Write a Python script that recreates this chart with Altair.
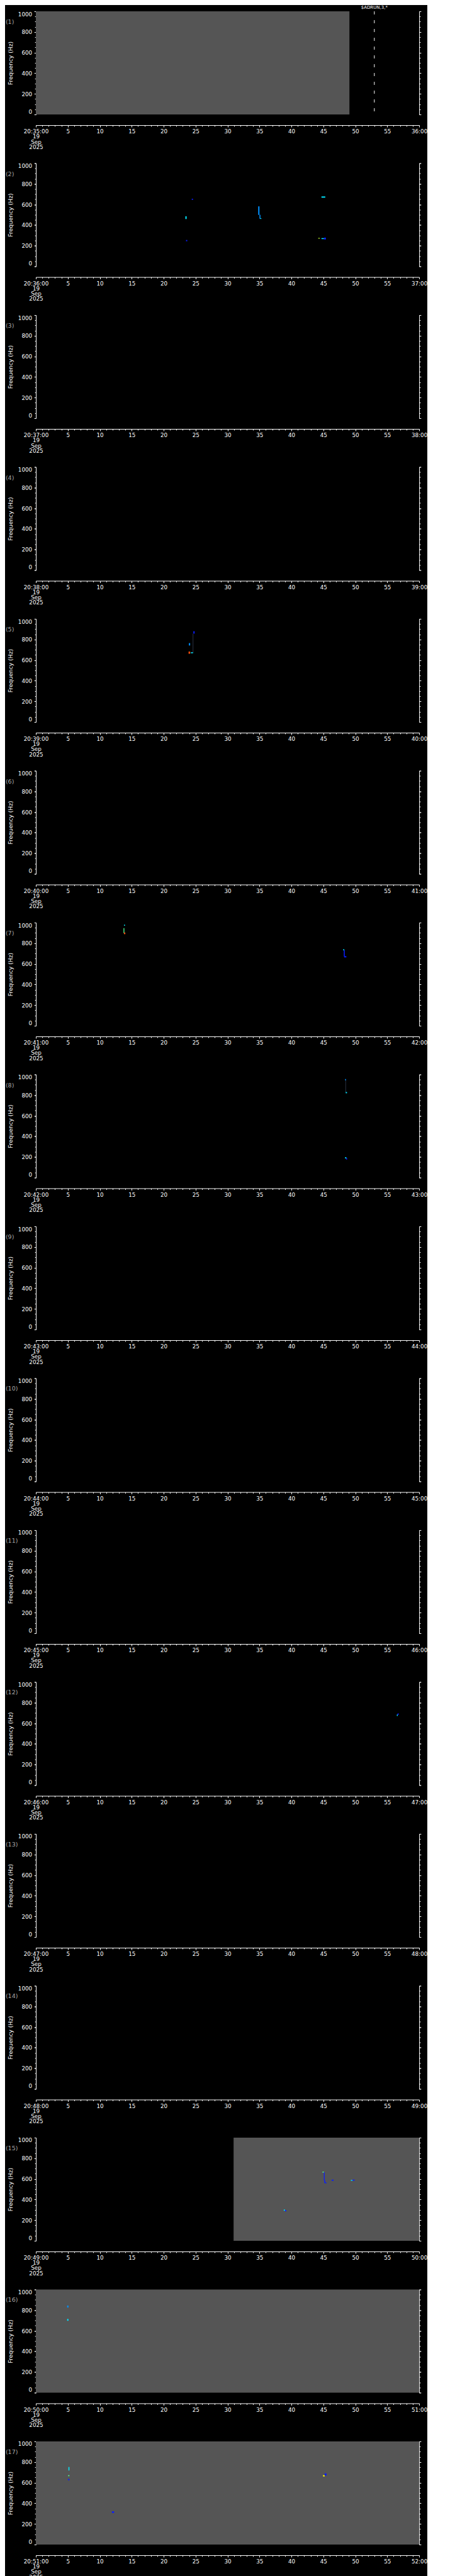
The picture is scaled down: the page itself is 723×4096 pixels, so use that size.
import altair as alt
import pandas as pd

S = 0.705
W = round(864 * S, 1)
H = round(232.7 * S, 1)
PITCH = 341.3 * S
XOFF = round(24 * S, 1)

panel_ids = list(range(1, 18))
panel_labels = [f"({k})" for k in panel_ids]
start_labels = [f"20:{35 + k - 1}:00" for k in panel_ids]
end_labels = [f"{36 + k - 1}:00" for k in panel_ids]
date_lines = ["19", "Sep", "2025"]

x_major = list(range(0, 61, 5))
x_minor = list(range(0, 61, 1))
y_major = list(range(0, 1001, 200))
y_minor = list(range(0, 1001, 50))

# data coverage (grey background) per panel, seconds within the minute
cov_panel = [1, 15, 16, 17]
cov_start = [0.0, 30.95, 0.0, 0.0]
cov_end = [49.08, 60.0, 60.0, 60.0]
cov_fmin = [0, 0, 0, 0]
cov_fmax = [1000, 1000, 1000, 1000]

# spectrogram detections
speck_panel = [2, 2, 2, 2, 2, 2, 2, 2, 2, 2,
               5, 5, 5, 5, 5,
               7, 7, 7, 7, 7, 7,
               8, 8, 8, 8, 8,
               12, 12,
               15, 15, 15, 15, 15, 15, 15, 15, 15,
               16, 16,
               17, 17, 17, 17, 17, 17]
speck_t0 = [23.40, 24.40, 23.50, 34.80, 35.00, 35.10, 44.70, 44.20, 44.70, 45.10,
            24.65, 24.55, 23.95, 23.90, 24.25,
            13.80, 13.72, 13.80, 48.10, 48.20, 48.25,
            48.45, 48.40, 48.50, 48.40, 48.55,
            56.50, 56.60,
            44.85, 45.08, 45.15, 45.25, 46.30, 49.30, 49.55, 38.80, 39.00,
            4.90, 4.90,
            5.10, 5.05, 5.05, 11.90, 44.95, 45.20]
speck_t1 = [23.60, 24.60, 23.70, 35.00, 35.15, 35.30, 45.30, 44.45, 45.10, 45.40,
            24.85, 24.65, 24.15, 24.15, 24.60,
            13.95, 13.85, 14.00, 48.28, 48.35, 48.60,
            48.55, 48.55, 48.70, 48.60, 48.72,
            56.65, 56.80,
            45.10, 45.20, 45.30, 45.50, 46.60, 49.60, 49.90, 39.00, 39.20,
            5.10, 5.10,
            5.25, 5.25, 5.25, 12.25, 45.20, 45.50]
speck_f0 = [459, 645, 244, 499, 463, 460, 666, 269, 265, 261,
            857, 670, 742, 662, 667,
            970, 898, 888, 731, 673, 663,
            825, 944, 818, 186, 176,
            671, 682,
            662, 585, 559, 558, 582, 582, 584, 292, 285,
            825, 697,
            718, 663, 623, 307, 660, 670]
speck_f1 = [486, 656, 256, 582, 500, 467, 678, 276, 274, 279,
            880, 857, 765, 683, 676,
            980, 946, 904, 742, 733, 675,
            950, 956, 830, 199, 190,
            685, 695,
            670, 664, 587, 566, 593, 590, 593, 303, 298,
            845, 715,
            752, 673, 637, 322, 673, 690]
speck_level = ["cyan", "blue", "blue", "lightblue", "lightblue", "cyan", "cyan", "yellowgreen", "cyan", "blue",
               "blue", "dim", "lightblue", "orange", "cyan",
               "cyan", "green", "orange", "cyan", "blue", "blue",
               "dim", "lightblue", "cyan", "cyan", "blue",
               "cyan", "blue",
               "green", "blue", "blue", "blue", "blue", "cyan", "blue", "cyan", "blue",
               "lightblue", "cyan",
               "cyan", "green", "blue", "blue", "yellow", "blue"]

levels = ["dim", "blue", "lightblue", "cyan", "green", "yellowgreen", "yellow", "orange"]
level_colors = ["#2a3040", "#0a1cff", "#0090ff", "#00e6ff", "#50ff90", "#c0ff30", "#ffff00", "#ff5010"]

event_panel = [1]
event_t = [52.98]
event_text = ["$ADRUN,3,*"]

cov = pd.DataFrame({"panel": cov_panel, "t0": cov_start, "t1": cov_end, "f0": cov_fmin, "f1": cov_fmax})
specks = pd.DataFrame({"panel": speck_panel, "t0": speck_t0, "t1": speck_t1,
                       "f0": speck_f0, "f1": speck_f1, "level": speck_level})
frame = pd.DataFrame({"panel": panel_ids, "label": panel_labels, "zero": [0] * len(panel_ids)})
events = pd.DataFrame({"panel": event_panel, "t": event_t, "text": event_text})

FONT = "DejaVu Sans"
xs = alt.Scale(domain=[0, 60], nice=False, zero=False)
ys = alt.Scale(domain=[0, 1000], nice=False, zero=False)


def panel(k):
    i = k - 1
    lab_expr = (f"datum.value == 0 ? ['{start_labels[i]}', '{date_lines[0]}', '{date_lines[1]}', '{date_lines[2]}'] : "
                f"datum.value == 60 ? '{end_labels[i]}' : datum.label")
    x_major_axis = alt.Axis(orient="bottom", values=x_major, offset=XOFF, tickSize=3.0, tickWidth=1,
                            tickColor="white", domainColor="white", domainWidth=1, grid=False,
                            labelExpr=lab_expr, labelColor="white", labelFont=FONT, labelFontSize=8.8,
                            labelLineHeight=8.2, labelPadding=2.6, labelBaseline="top", labelAlign="center",
                            labelFlush=False, labelOverlap=False, labelBound=False, title=None)
    x_minor_axis = alt.Axis(orient="bottom", values=x_minor, offset=XOFF, tickSize=1.9, tickWidth=1,
                            tickColor="white", domain=False, labels=False, grid=False, title=None)
    y_left_major = alt.Axis(orient="left", values=y_major, format="d", tickSize=2.8, tickWidth=1,
                            tickColor="white", domainColor="white", domainWidth=1, grid=False,
                            labelColor="white", labelFont=FONT, labelFontSize=8.8, labelPadding=3.5,
                            labelFlush=True, labelOverlap=False, title="Frequency (Hz)", titleColor="white",
                            titleFont=FONT, titleFontSize=9.2, titleFontWeight="normal",
                            titleX=-40.4, titleY=H / 2, titleAngle=270, titleAlign="center",
                            titleBaseline="middle")
    y_left_minor = alt.Axis(orient="left", values=y_minor, tickSize=1.8, tickWidth=1, tickColor="white",
                            domain=False, labels=False, grid=False, title=None)
    y_right_major = alt.Axis(orient="right", values=y_major, tickSize=2.8, tickWidth=1, tickColor="white",
                             domainColor="white", domainWidth=1, labels=False, grid=False, title=None)
    y_right_minor = alt.Axis(orient="right", values=y_minor, tickSize=1.8, tickWidth=1, tickColor="white",
                             domain=False, labels=False, grid=False, title=None)
    flt = alt.datum.panel == k

    cov_layer = alt.Chart(cov).transform_filter(flt).mark_rect(color="#555555").encode(
        x=alt.X("t0:Q", scale=xs, axis=x_major_axis), x2="t1:Q",
        y=alt.Y("f0:Q", scale=ys, axis=y_left_major), y2="f1:Q")
    speck_layer = alt.Chart(specks).transform_filter(flt).mark_rect().encode(
        x=alt.X("t0:Q", scale=xs, axis=x_minor_axis), x2="t1:Q",
        y=alt.Y("f0:Q", scale=ys, axis=y_left_minor), y2="f1:Q",
        color=alt.Color("level:N", scale=alt.Scale(domain=levels, range=level_colors), legend=None))
    rmaj = alt.Chart(frame).transform_filter(flt).mark_point(opacity=0).encode(
        x=alt.X("zero:Q", scale=xs, axis=None),
        y=alt.Y("zero:Q", scale=ys, axis=y_right_major))
    rmin = alt.Chart(frame).transform_filter(flt).mark_point(opacity=0).encode(
        x=alt.X("zero:Q", scale=xs, axis=None),
        y=alt.Y("zero:Q", scale=ys, axis=y_right_minor))
    lab = alt.Chart(frame).transform_filter(flt).mark_text(
        align="left", baseline="middle", color="#a8a8a8", font=FONT, fontSize=9.5).encode(
        x=alt.value(-48.1), y=alt.value(17), text="label:N")
    rule = alt.Chart(events).transform_filter(flt).mark_rule(
        color="white", strokeDash=[5, 9], strokeWidth=1).encode(
        x=alt.X("t:Q", scale=xs, axis=None), y=alt.value(0), y2=alt.value(H))
    etext = alt.Chart(events).transform_filter(flt).mark_text(
        align="center", baseline="middle", color="white", font=FONT, fontSize=7).encode(
        x=alt.X("t:Q", scale=xs, axis=None), y=alt.value(-5.6), text="text:N")

    return alt.layer(cov_layer, speck_layer, rmaj, rmin, lab, rule, etext).resolve_axis(
        x="independent", y="independent").properties(width=W, height=H)


chart = alt.vconcat(*[panel(k) for k in panel_ids], spacing=round(PITCH - H, 1), bounds="flush").properties(
    padding=0, background="black").configure_view(stroke=None)

chart.save("out.html", embed_options={"renderer": "svg", "actions": False})
